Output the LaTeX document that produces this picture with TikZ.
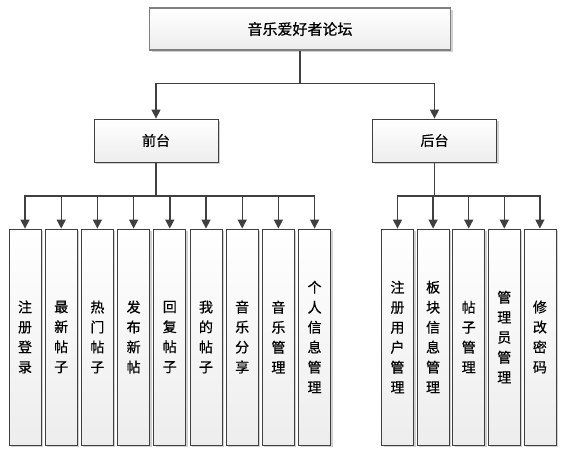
\documentclass[tikz,border=0pt]{standalone}
\usepackage{fontspec}
\newfontfamily\cjk[FakeBold=0.5]{Noto Sans CJK SC}
\usepackage{tikz}
\usetikzlibrary{arrows.meta, shadows}
\definecolor{boxline}{RGB}{64, 64, 64}
\definecolor{boxgray}{RGB}{128, 128, 128}

\begin{document}
\begin{tikzpicture}[
  x=1pt, y=-1pt,
  mbox/.style={draw=boxgray, line width=1.2pt, top color=white, bottom color=black!7, minimum width=301pt, minimum height=42pt, inner sep=0pt, font=\cjk\fontsize{15}{18}\selectfont, drop shadow={shadow xshift=2pt, shadow yshift=-2pt, fill=black!18, opacity=1}},
  gbox/.style={draw=boxline, line width=0.8pt, top color=white, bottom color=black!7, minimum width=124pt, minimum height=43pt, inner sep=0pt, font=\cjk\fontsize{14}{17}\selectfont, drop shadow={shadow xshift=2pt, shadow yshift=-2pt, fill=black!18, opacity=1}},
  fbox/.style={draw=boxline, line width=0.8pt, top color=white, bottom color=black!7, minimum width=32pt, minimum height=216pt, inner sep=0pt, align=center, font=\cjk\fontsize{14}{20}\selectfont, drop shadow={shadow xshift=2pt, shadow yshift=-2pt, fill=black!18, opacity=1}},
  arr/.style={draw=boxline, line width=1.4pt, -{Triangle[width=9pt, length=9pt]}}
]
  \useasboundingbox (0,0) rectangle (571,454);

  \node[mbox] (forum) at (300, 29) {音乐爱好者论坛};
  \node[gbox] (front) at (156, 140.5) {前台};
  \node[gbox] (back) at (434.5, 140.5) {后台};

  % front-end pages
  \node[fbox] (reg) at (25, 337) {注\\册\\登\\录};
  \node[fbox] (latest) at (61.2, 337) {最\\新\\帖\\子};
  \node[fbox] (hot) at (97.4, 337) {热\\门\\帖\\子};
  \node[fbox] (post) at (133.6, 337) {发\\布\\新\\帖};
  \node[fbox] (reply) at (169.8, 337) {回\\复\\帖\\子};
  \node[fbox] (mine) at (206, 337) {我\\的\\帖\\子};
  \node[fbox] (share) at (242.2, 337) {音\\乐\\分\\享};
  \node[fbox] (music) at (278.4, 337) {音\\乐\\管\\理};
  \node[fbox] (profile) at (314.6, 337) {个\\人\\信\\息\\管\\理};

  % back-end pages
  \node[fbox] (users) at (397.5, 337) {注\\册\\用\\户\\管\\理};
  \node[fbox] (boards) at (433.1, 337) {板\\块\\信\\息\\管\\理};
  \node[fbox] (posts) at (468.7, 337) {帖\\子\\管\\理};
  \node[fbox] (admins) at (504.3, 337) {管\\理\\员\\管\\理};
  \node[fbox] (passwd) at (539.9, 337) {修\\改\\密\\码};

  \draw[arr] (forum.south) -- ++(0,33) -| (front.north);
  \draw[arr] (forum.south) -- ++(0,33) -| (back.north);

  \draw[arr] (front.south) -- ++(0,33.5) -| (reg.north);
  \draw[arr] (front.south) -- ++(0,33.5) -| (latest.north);
  \draw[arr] (front.south) -- ++(0,33.5) -| (hot.north);
  \draw[arr] (front.south) -- ++(0,33.5) -| (post.north);
  \draw[arr] (front.south) -- ++(0,33.5) -| (reply.north);
  \draw[arr] (front.south) -- ++(0,33.5) -| (mine.north);
  \draw[arr] (front.south) -- ++(0,33.5) -| (share.north);
  \draw[arr] (front.south) -- ++(0,33.5) -| (music.north);
  \draw[arr] (front.south) -- ++(0,33.5) -| (profile.north);

  \draw[arr] (back.south) -- ++(0,33.5) -| (users.north);
  \draw[arr] (back.south) -- ++(0,33.5) -| (boards.north);
  \draw[arr] (back.south) -- ++(0,33.5) -| (posts.north);
  \draw[arr] (back.south) -- ++(0,33.5) -| (admins.north);
  \draw[arr] (back.south) -- ++(0,33.5) -| (passwd.north);
\end{tikzpicture}
\end{document}
